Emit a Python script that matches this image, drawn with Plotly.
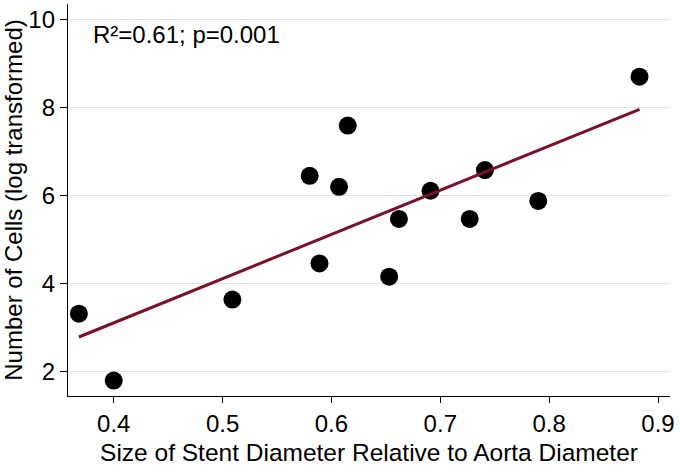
import numpy as np
import plotly.graph_objects as go

stent_ratio = [0.368, 0.400, 0.509, 0.580, 0.589, 0.607, 0.615, 0.653, 0.662, 0.691, 0.727, 0.741, 0.790, 0.883]
log_cells = [3.32, 1.80, 3.64, 6.45, 4.46, 6.20, 7.59, 4.16, 5.47, 6.11, 5.47, 6.58, 5.88, 8.70]
x_ticks = [0.4, 0.5, 0.6, 0.7, 0.8, 0.9]
y_ticks = [2, 4, 6, 8, 10]
annotation_text = "R²=0.61; p=0.001"

slope, intercept = np.polyfit(stent_ratio, log_cells, 1)
fit_x = [min(stent_ratio), max(stent_ratio)]
fit_y = [intercept + slope * v for v in fit_x]

font = "Liberation Sans, Arial, sans-serif"
fs = 24

fig = go.Figure()
fig.add_trace(go.Scatter(x=stent_ratio, y=log_cells, mode="markers",
                         marker=dict(color="black", size=18), showlegend=False))
fig.add_trace(go.Scatter(x=fit_x, y=fit_y, mode="lines",
                         line=dict(color="#7A1029", width=3), showlegend=False))

fig.add_annotation(x=0.0, xref="paper", xshift=23, y=9.65, yref="y", text=annotation_text,
                   showarrow=False, xanchor="left", yanchor="middle",
                   font=dict(family=font, size=fs, color="black"))

fig.update_layout(
    width=680, height=466,
    margin=dict(l=68, r=10, t=4, b=70),
    paper_bgcolor="white", plot_bgcolor="white",
    font=dict(family=font, color="black"),
)
fig.update_xaxes(range=[0.358, 0.911], tickvals=x_ticks, ticktext=[f"{v:.1f}" for v in x_ticks],
                 showline=True, linecolor="black", linewidth=1.3, ticks="outside", ticklen=6,
                 tickcolor="black", showgrid=False, zeroline=False, automargin=False,
                 tickfont=dict(family=font, size=fs),
                 title=dict(text="Size of Stent Diameter Relative to Aorta Diameter",
                            font=dict(family=font, size=24.5), standoff=8))
fig.update_yaxes(range=[1.45, 10.35], tickvals=y_ticks,
                 showline=True, linecolor="black", linewidth=1.3, ticks="outside", ticklen=7,
                 tickcolor="black", showgrid=True, gridcolor="#e2e2e2", gridwidth=1, zeroline=False,
                 automargin=False,
                 tickfont=dict(family=font, size=fs),
                 title=dict(text="Number of Cells (log transformed)",
                            font=dict(family=font, size=fs), standoff=6))

fig.write_html("out.html", config={"displayModeBar": False},
               post_script="document.body.style.margin='0';document.body.style.overflow='hidden';")
